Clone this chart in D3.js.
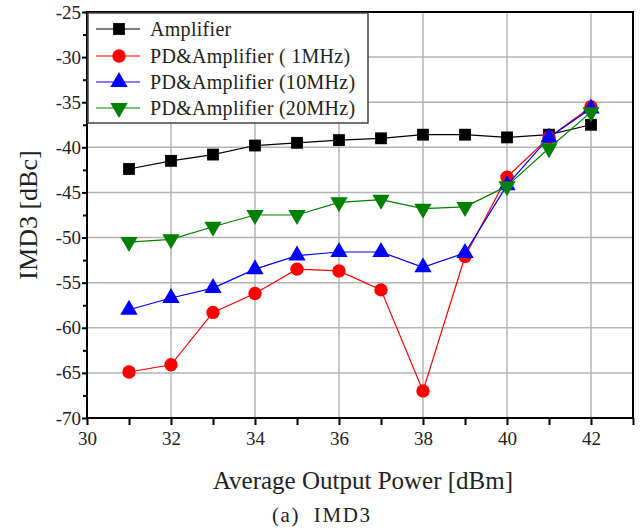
<!DOCTYPE html>
<html>
<head>
<meta charset="utf-8">
<script src="https://cdn.jsdelivr.net/npm/d3@7"></script>
<style>
  body { margin: 0; background: #fff; }
  svg text { font-family: "Liberation Serif", "Times New Roman", serif; fill: #222; }
</style>
</head>
<body>
<svg id="chart" width="641" height="532"></svg>
<script>
// Data
const power = [31, 32, 33, 34, 35, 36, 37, 38, 39, 40, 41, 42];
const amplifier = [-42.4, -41.5, -40.8, -39.8, -39.5, -39.2, -39.0, -38.6, -38.6, -38.9, -38.6, -37.5];
const pd1MHz = [-64.9, -64.1, -58.3, -56.2, -53.5, -53.7, -55.8, -67.0, -52.1, -43.3, -38.9, -35.5];
const pd10MHz = [-58.0, -56.7, -55.6, -53.5, -52.0, -51.6, -51.6, -53.3, -51.7, -44.2, -38.9, -35.7];
const pd20MHz = [-50.5, -50.2, -48.8, -47.5, -47.5, -46.1, -45.8, -46.8, -46.6, -44.3, -40.1, -36.1];
const xTicks = [30, 32, 34, 36, 38, 40, 42];
const yTicks = [-25, -30, -35, -40, -45, -50, -55, -60, -65, -70];

const series = [
  { name: "Amplifier", values: amplifier, color: "#000", shape: "square" },
  { name: "PD&Amplifier ( 1MHz)", values: pd1MHz, color: "#f00", shape: "circle" },
  { name: "PD&Amplifier (10MHz)", values: pd10MHz, color: "#00f", shape: "up" },
  { name: "PD&Amplifier (20MHz)", values: pd20MHz, color: "#008000", shape: "down" }
];

const serif = '"Liberation Serif", "Times New Roman", serif';
const svg = d3.select("#chart");
const margin = { left: 87, top: 12, right: 8, bottom: 114 };
const width = 641 - margin.left - margin.right;
const height = 532 - margin.top - margin.bottom;

const x = d3.scaleLinear().domain([30, 43]).range([0, width]);
const y = d3.scaleLinear().domain([-70, -25]).range([height, 0]);

const g = svg.append("g").attr("transform", `translate(${margin.left},${margin.top})`);

// grid
g.append("g").selectAll("line")
  .data(xTicks.filter(d => d > 30))
  .join("line")
  .attr("x1", d => x(d)).attr("x2", d => x(d))
  .attr("y1", 0).attr("y2", height)
  .attr("stroke", "#b4b4b4").attr("stroke-width", 1.5);
g.append("g").selectAll("line")
  .data(yTicks.filter(d => d > -70 && d < -25))
  .join("line")
  .attr("x1", 0).attr("x2", width)
  .attr("y1", d => y(d)).attr("y2", d => y(d))
  .attr("stroke", "#b4b4b4").attr("stroke-width", 1.5);

// frame
g.append("rect")
  .attr("width", width).attr("height", height)
  .attr("fill", "none").attr("stroke", "#000").attr("stroke-width", 2);

// axes
const xAxis = g.append("g")
  .attr("transform", `translate(0,${height})`)
  .call(d3.axisBottom(x).tickValues(d3.range(30, 44, 1)).tickSize(7)
    .tickFormat(d => xTicks.includes(d) ? d : ""));
const yAxis = g.append("g")
  .call(d3.axisLeft(y).tickValues(d3.range(-70, -24, 2.5)).tickSize(5)
    .tickFormat(d => yTicks.includes(d) ? d : ""));

[xAxis, yAxis].forEach(a => {
  a.attr("font-family", serif).attr("font-size", 19);
  a.select(".domain").remove();
  a.selectAll(".tick line").attr("stroke", "#000").attr("stroke-width", 2);
  a.selectAll(".tick text").attr("fill", "#222")
    .style("font-size", "19px").style("font-family", serif);
});
xAxis.selectAll(".tick text").attr("dy", "0.9em");
yAxis.selectAll(".tick").filter(d => d % 5 !== 0).select("line").attr("x2", -4);
yAxis.selectAll(".tick text").attr("x", -6);

// series
const line = d3.line().x((d, i) => x(power[i])).y(d => y(d));
const sym = {
  square: d3.symbol(d3.symbolSquare, 140),
  circle: d3.symbol(d3.symbolCircle, 140),
  up: d3.symbol(d3.symbolTriangle, 130),
  down: d3.symbol(d3.symbolTriangle, 130)
};

series.forEach(s => {
  g.append("path")
    .attr("d", line(s.values))
    .attr("fill", "none").attr("stroke", s.color).attr("stroke-width", 1.2);
  g.append("g").selectAll("path")
    .data(s.values)
    .join("path")
    .attr("d", sym[s.shape]())
    .attr("transform", (d, i) => `translate(${x(power[i])},${y(d)})` + (s.shape === "down" ? " rotate(180)" : ""))
    .attr("fill", s.color);
});

// legend
const legend = g.append("g").attr("transform", "translate(1,1)");
legend.append("rect")
  .attr("width", 280).attr("height", 110)
  .attr("fill", "#fff").attr("stroke", "#444").attr("stroke-width", 1.5);
const rowY = [16, 43, 69, 95];
series.forEach((s, i) => {
  const row = legend.append("g").attr("transform", `translate(0,${rowY[i]})`);
  row.append("line").attr("x1", 8).attr("x2", 52).attr("stroke", s.color).attr("stroke-width", 1.2);
  row.append("path")
    .attr("d", sym[s.shape]())
    .attr("transform", "translate(31,0)" + (s.shape === "down" ? " rotate(180)" : ""))
    .attr("fill", s.color);
  row.append("text")
    .attr("x", 62).attr("dy", "0.35em")
    .attr("font-size", 20)
    .attr("letter-spacing", 0.3)
    .attr("xml:space", "preserve")
    .text(s.name);
});

// titles
svg.append("text")
  .attr("transform", `translate(37,215) rotate(-90)`)
  .attr("text-anchor", "middle").attr("font-size", 26)
  .text("IMD3 [dBc]");
svg.append("text")
  .attr("x", 363).attr("y", 489)
  .attr("text-anchor", "middle").attr("font-size", 25)
  .text("Average Output Power [dBm]");
svg.append("text")
  .attr("x", 272).attr("y", 522)
  .attr("font-size", 21)
  .attr("textLength", 98).attr("lengthAdjust", "spacing")
  .attr("xml:space", "preserve")
  .text("(a)  IMD3");
</script>
</body>
</html>
